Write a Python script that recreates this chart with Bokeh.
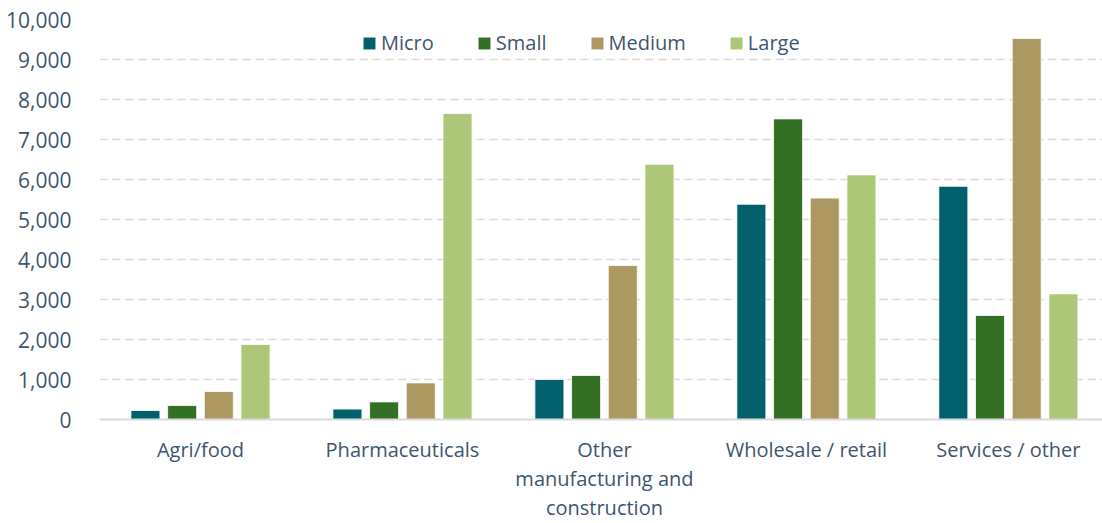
from bokeh.plotting import figure
from bokeh.models import ColumnDataSource, Range1d, FixedTicker, NumeralTickFormatter, Legend, LegendItem
from bokeh.embed import file_html
from bokeh.resources import INLINE

categories = ["Agri/food", "Pharmaceuticals", "Other\nmanufacturing and\nconstruction", "Wholesale / retail", "Services / other"]
micro = [225, 260, 1000, 5380, 5830]
small = [350, 440, 1100, 7515, 2600]
medium = [700, 915, 3850, 5535, 9525]
large = [1875, 7650, 6380, 6115, 3140]
series_names = ["Micro", "Small", "Medium", "Large"]
colors = ["#01606b", "#336f24", "#ae9862", "#adc778"]
y_ticks = [0, 1000, 2000, 3000, 4000, 5000, 6000, 7000, 8000, 9000, 10000]

FONT = "Open Sans"
TEXT = "#3d566e"

p = figure(width=1102, height=523, output_backend="svg", toolbar_location=None,
           x_range=Range1d(0, 4.966), y_range=Range1d(0, 10000),
           min_border_left=99, min_border_right=0, min_border_top=19, min_border_bottom=104)
p.outline_line_color = None
p.background_fill_color = "white"

centers = [i + 0.5 for i in range(len(categories))]
offsets = [-0.2725, -0.0908, 0.0908, 0.2725]
data = [micro, small, medium, large]
renderers = []
for name, vals, off, col in zip(series_names, data, offsets, colors):
    src = ColumnDataSource(dict(x=[c + off for c in centers], top=vals))
    r = p.vbar(x="x", top="top", width=0.1436, source=src, fill_color=col,
               line_color="white", line_width=0.8)
    renderers.append((name, r))

# axes
p.xaxis.ticker = FixedTicker(ticks=centers)
p.xaxis.major_label_overrides = {c: lab for c, lab in zip(centers, categories)}
p.xaxis.major_tick_line_color = None
p.xaxis.minor_tick_line_color = None
p.xaxis.axis_line_color = "#d9d9d9"
p.xaxis.axis_line_width = 2
p.xaxis.major_label_text_font = FONT
p.xaxis.major_label_text_font_size = "20px"
p.xaxis.major_label_text_color = TEXT
p.xaxis.major_label_text_line_height = 1.08
p.xaxis.major_label_standoff = 10

p.yaxis.ticker = FixedTicker(ticks=y_ticks)
p.yaxis.formatter = NumeralTickFormatter(format="0,0")
p.yaxis.axis_line_color = None
p.yaxis.major_tick_line_color = None
p.yaxis.minor_tick_line_color = None
p.yaxis.major_label_text_font = FONT
p.yaxis.major_label_text_font_size = "21px"
p.yaxis.major_label_text_color = TEXT
p.yaxis.major_label_standoff = 22

p.xgrid.grid_line_color = None
p.ygrid.grid_line_color = "#d9d9d9"
p.ygrid.grid_line_width = 1.5
p.ygrid.grid_line_dash = "8 5"

legend = Legend(items=[LegendItem(label=n, renderers=[r]) for n, r in renderers],
                orientation="horizontal", location=(262, 363),
                glyph_width=16, glyph_height=16, label_standoff=4, spacing=42,
                padding=0, margin=0, border_line_alpha=0, background_fill_alpha=0,
                label_text_font=FONT, label_text_font_size="20px", label_text_color=TEXT)
p.add_layout(legend)

open("out.html", "w").write(file_html(p, INLINE))
